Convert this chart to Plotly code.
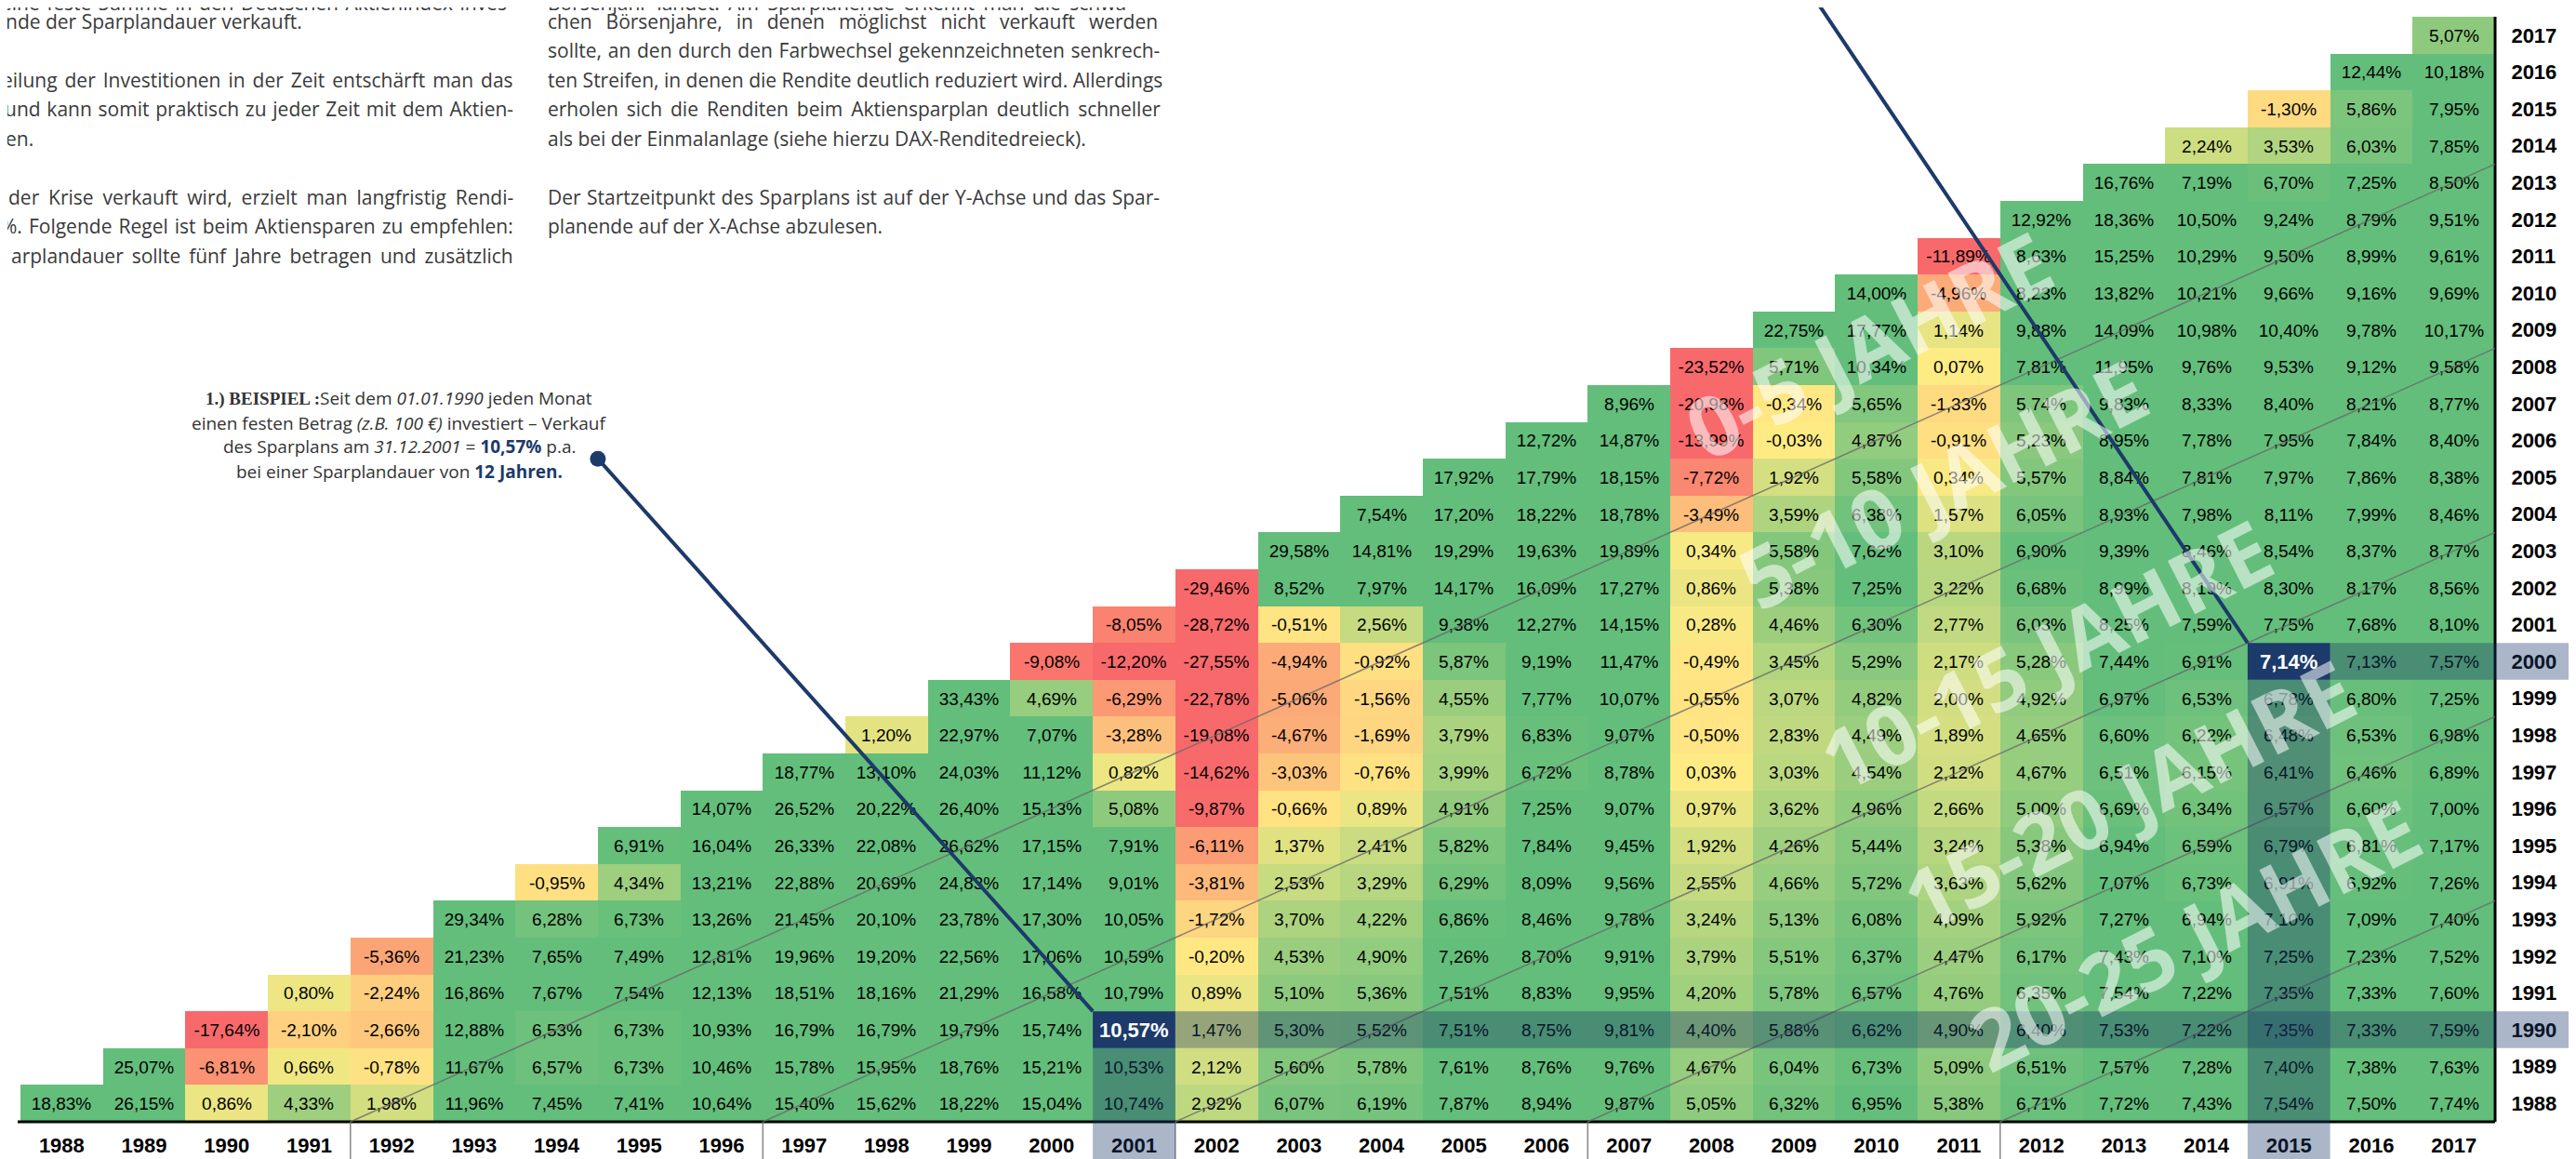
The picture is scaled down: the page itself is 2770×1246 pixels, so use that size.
import plotly.graph_objects as go

# ---------------- data ----------------
years = list(range(1988, 2018))          # start years (y) and end years (x)
tick_labels = [str(y) for y in years]

# annualised return of a monthly savings plan, start year -> end years (start..2017)
r1988 = [18.83, 26.15, 0.86, 4.33, 1.98, 11.96, 7.45, 7.41, 10.64, 15.40, 15.62, 18.22, 15.04, 10.74, 2.92, 6.07, 6.19, 7.87, 8.94, 9.87, 5.05, 6.32, 6.95, 5.38, 6.71, 7.72, 7.43, 7.54, 7.50, 7.74]
r1989 = [25.07, -6.81, 0.66, -0.78, 11.67, 6.57, 6.73, 10.46, 15.78, 15.95, 18.76, 15.21, 10.53, 2.12, 5.60, 5.78, 7.61, 8.76, 9.76, 4.67, 6.04, 6.73, 5.09, 6.51, 7.57, 7.28, 7.40, 7.38, 7.63]
r1990 = [-17.64, -2.10, -2.66, 12.88, 6.53, 6.73, 10.93, 16.79, 16.79, 19.79, 15.74, 10.57, 1.47, 5.30, 5.52, 7.51, 8.75, 9.81, 4.40, 5.88, 6.62, 4.90, 6.40, 7.53, 7.22, 7.35, 7.33, 7.59]
r1991 = [0.80, -2.24, 16.86, 7.67, 7.54, 12.13, 18.51, 18.16, 21.29, 16.58, 10.79, 0.89, 5.10, 5.36, 7.51, 8.83, 9.95, 4.20, 5.78, 6.57, 4.76, 6.35, 7.54, 7.22, 7.35, 7.33, 7.60]
r1992 = [-5.36, 21.23, 7.65, 7.49, 12.81, 19.96, 19.20, 22.56, 17.06, 10.59, -0.20, 4.53, 4.90, 7.26, 8.70, 9.91, 3.79, 5.51, 6.37, 4.47, 6.17, 7.43, 7.10, 7.25, 7.23, 7.52]
r1993 = [29.34, 6.28, 6.73, 13.26, 21.45, 20.10, 23.78, 17.30, 10.05, -1.72, 3.70, 4.22, 6.86, 8.46, 9.78, 3.24, 5.13, 6.08, 4.09, 5.92, 7.27, 6.94, 7.10, 7.09, 7.40]
r1994 = [-0.95, 4.34, 13.21, 22.88, 20.69, 24.83, 17.14, 9.01, -3.81, 2.53, 3.29, 6.29, 8.09, 9.56, 2.55, 4.66, 5.72, 3.63, 5.62, 7.07, 6.73, 6.91, 6.92, 7.26]
r1995 = [6.91, 16.04, 26.33, 22.08, 26.62, 17.15, 7.91, -6.11, 1.37, 2.41, 5.82, 7.84, 9.45, 1.92, 4.26, 5.44, 3.24, 5.38, 6.94, 6.59, 6.79, 6.81, 7.17]
r1996 = [14.07, 26.52, 20.22, 26.40, 15.13, 5.08, -9.87, -0.66, 0.89, 4.91, 7.25, 9.07, 0.97, 3.62, 4.96, 2.66, 5.00, 6.69, 6.34, 6.57, 6.60, 7.00]
r1997 = [18.77, 13.10, 24.03, 11.12, 0.82, -14.62, -3.03, -0.76, 3.99, 6.72, 8.78, 0.03, 3.03, 4.54, 2.12, 4.67, 6.51, 6.15, 6.41, 6.46, 6.89]
r1998 = [1.20, 22.97, 7.07, -3.28, -19.08, -4.67, -1.69, 3.79, 6.83, 9.07, -0.50, 2.83, 4.49, 1.89, 4.65, 6.60, 6.22, 6.48, 6.53, 6.98]
r1999 = [33.43, 4.69, -6.29, -22.78, -5.06, -1.56, 4.55, 7.77, 10.07, -0.55, 3.07, 4.82, 2.00, 4.92, 6.97, 6.53, 6.78, 6.80, 7.25]
r2000 = [-9.08, -12.20, -27.55, -4.94, -0.92, 5.87, 9.19, 11.47, -0.49, 3.45, 5.29, 2.17, 5.28, 7.44, 6.91, 7.14, 7.13, 7.57]
r2001 = [-8.05, -28.72, -0.51, 2.56, 9.38, 12.27, 14.15, 0.28, 4.46, 6.30, 2.77, 6.03, 8.25, 7.59, 7.75, 7.68, 8.10]
r2002 = [-29.46, 8.52, 7.97, 14.17, 16.09, 17.27, 0.86, 5.38, 7.25, 3.22, 6.68, 8.99, 8.19, 8.30, 8.17, 8.56]
r2003 = [29.58, 14.81, 19.29, 19.63, 19.89, 0.34, 5.58, 7.62, 3.10, 6.90, 9.39, 8.46, 8.54, 8.37, 8.77]
r2004 = [7.54, 17.20, 18.22, 18.78, -3.49, 3.59, 6.38, 1.57, 6.05, 8.93, 7.98, 8.11, 7.99, 8.46]
r2005 = [17.92, 17.79, 18.15, -7.72, 1.92, 5.58, 0.34, 5.57, 8.84, 7.81, 7.97, 7.86, 8.38]
r2006 = [12.72, 14.87, -13.99, -0.03, 4.87, -0.91, 5.23, 8.95, 7.78, 7.95, 7.84, 8.40]
r2007 = [8.96, -20.98, -0.34, 5.65, -1.33, 5.74, 9.83, 8.33, 8.40, 8.21, 8.77]
r2008 = [-23.52, 5.71, 10.34, 0.07, 7.81, 11.95, 9.76, 9.53, 9.12, 9.58]
r2009 = [22.75, 17.77, 1.14, 9.88, 14.09, 10.98, 10.40, 9.78, 10.17]
r2010 = [14.00, -4.96, 8.23, 13.82, 10.21, 9.66, 9.16, 9.69]
r2011 = [-11.89, 8.63, 15.25, 10.29, 9.50, 8.99, 9.61]
r2012 = [12.92, 18.36, 10.50, 9.24, 8.79, 9.51]
r2013 = [16.76, 7.19, 6.70, 7.25, 8.50]
r2014 = [2.24, 3.53, 6.03, 7.85]
r2015 = [-1.30, 5.86, 7.95]
r2016 = [12.44, 10.18]
r2017 = [5.07]

rows = [r1988, r1989, r1990, r1991, r1992, r1993, r1994, r1995, r1996, r1997,
        r1998, r1999, r2000, r2001, r2002, r2003, r2004, r2005, r2006, r2007,
        r2008, r2009, r2010, r2011, r2012, r2013, r2014, r2015, r2016, r2017]

# highlighted examples: (end year, start year)
examples = [(2001, 1990), (2015, 2000)]
duration_marks = [5, 10, 15, 20, 25]
watermarks = ["0-5 JAHRE", "5-10 JAHRE", "10-15 JAHRE", "15-20 JAHRE", "20-25 JAHRE"]

# ---------------- build matrix ----------------
n = len(years)
z, txt = [], []
for i, sy in enumerate(years):
    row = rows[i]
    if len(row) != n - i:
        raise ValueError(f"row {sy} has {len(row)} values")
    zr, tr = [], []
    for j, ey in enumerate(years):
        if j >= i:
            v = row[j - i]
            zr.append(v)
            tr.append("" if (ey, sy) in examples else f"{v:.2f}".replace(".", ",") + "%")
        else:
            zr.append(None)
            tr.append("")
    z.append(zr)
    txt.append(tr)

def fmt(v):
    return f"{v:.2f}".replace(".", ",") + "%"

NAVY = "#1c3a6a"
X0, X1 = 1987.5, 2017.5
Y0, Y1 = 1987.5, 2017.5
ML, MR, MT, MB = 14, 95, 10, 44
W, H = 2770, 1246
PW, PH = W - ML - MR, H - MT - MB

def xp(x):  # data -> paper
    return (x - X0) / (X1 - X0)

def yp(y):
    return (y - Y0) / (Y1 - Y0)

def pxx(px):  # pixel -> paper
    return (px - ML) / PW

def pxy(py):
    return (H - MB - py) / PH

XR = pxx(W + 5)
YB = pxy(H + 5)

fig = go.Figure()
fig.add_trace(go.Heatmap(
    x=years, y=years, z=z, text=txt, texttemplate="%{text}",
    textfont=dict(family="Liberation Sans, Arial", size=19, color="black"),
    colorscale=[[0, "#F8696B"], [10 / 17, "#FFEB84"], [1, "#63BE7B"]],
    zmin=-10, zmax=7, showscale=False, hoverinfo="skip", xgap=0, ygap=0,
))

shapes = []
# black frame lines
shapes.append(dict(type="line", xref="paper", yref="paper", x0=pxx(11), x1=1, y0=0, y1=0,
                   line=dict(color="black", width=3)))
shapes.append(dict(type="line", xref="paper", yref="paper", x0=1, x1=1, y0=0, y1=1,
                   line=dict(color="black", width=3)))
# duration diagonals and tick separators
for d in duration_marks:
    k = d - 1
    shapes.append(dict(type="line", xref="paper", yref="paper",
                       x0=xp(X0 + k), y0=0, x1=1, y1=yp(Y1 - k),
                       line=dict(color="rgba(105,105,105,0.8)", width=1.5)))
    shapes.append(dict(type="line", xref="paper", yref="paper",
                       x0=xp(X0 + k), y0=0, x1=xp(X0 + k), y1=YB,
                       line=dict(color="rgba(105,105,105,0.8)", width=1.5)))
# highlight bands
band = "rgba(27,58,107,0.37)"
for ex, sy in examples:
    shapes.append(dict(type="rect", xref="paper", yref="paper", layer="above",
                       x0=xp(ex + 0.5), x1=XR, y0=yp(sy - 0.5), y1=yp(sy + 0.5),
                       fillcolor=band, line=dict(width=0)))
    shapes.append(dict(type="rect", xref="paper", yref="paper", layer="above",
                       x0=xp(ex - 0.5), x1=xp(ex + 0.5), y0=YB, y1=yp(sy - 0.5),
                       fillcolor=band, line=dict(width=0)))
    shapes.append(dict(type="rect", xref="x", yref="y", layer="above",
                       x0=ex - 0.5, x1=ex + 0.5, y0=sy - 0.5, y1=sy + 0.5,
                       fillcolor=NAVY, line=dict(width=0)))
# pointer lines
shapes.append(dict(type="line", xref="paper", yref="paper",
                   x0=xp(1994.5), y0=yp(2005.5), x1=xp(2000.5), y1=yp(1990.5),
                   line=dict(color=NAVY, width=4)))
shapes.append(dict(type="line", xref="paper", yref="paper",
                   x0=xp(2008.5), y0=yp(2020.5), x1=xp(2014.5), y1=yp(2000.5),
                   line=dict(color=NAVY, width=4)))

fig.add_trace(go.Scatter(x=[1994.5], y=[2005.5], mode="markers",
                         marker=dict(color=NAVY, size=17), hoverinfo="skip", cliponaxis=False))

ann = []
for ex, sy in examples:
    v = rows[years.index(sy)][ex - sy]
    ann.append(dict(x=ex, y=sy, xref="x", yref="y", text=f"<b>{fmt(v)}</b>", showarrow=False,
                    font=dict(family="Liberation Sans, Arial", size=22, color="white")))

# watermark labels along the diagonals
wm_pos = [(2009.9, 2008.6), (2010.8, 2004.85), (2012.05, 2000.2), (2013.05, 1996.4), (2013.85, 1992.6)]
for label, (wx, wy) in zip(watermarks, wm_pos):
    ann.append(dict(x=wx, y=wy, xref="x", yref="y", text=label, showarrow=False, textangle=-27,
                    font=dict(family="Open Sans", size=90, color="rgba(255,255,255,0.55)", weight=700)))

# paragraph text (justified lines get extra word spacing)
TXT = "#3a3a3a"
LH = 31.6
L0 = 15

def just(t, ws):
    return f"<span style='word-spacing:{ws}px'>{t}</span>" if ws else t

col1 = [
    (-0.65, "eine feste Summe in den Deutschen Aktienindex inves-", "right", 2),
    (0, "nde der Sparplandauer verkauft.", "left", 0),
    (2, "eilung der Investitionen in der Zeit entschärft man das", "right", 2.5),
    (3, "und kann somit praktisch zu jeder Zeit mit dem Aktien-", "right", 1.3),
    (4, "en.", "left", 0),
    (6, "der Krise verkauft wird, erzielt man langfristig Rendi-", "right", 4.4),
    (7, "%. Folgende Regel ist beim Aktiensparen zu empfehlen:", "right", 1.6),
    (8, "arplandauer sollte fünf Jahre betragen und zusätzlich", "right", 3.5),
]
for k, t, al, ws in col1:
    ann.append(dict(x=pxx(546) if al == "right" else pxx(-4), y=pxy(L0 + k * LH), xref="paper", yref="paper",
                    xanchor=al, yanchor="middle", text=just(t, ws), showarrow=False,
                    font=dict(family="Open Sans", size=21, color=TXT)))
col2 = [
    (-0.65, "Börsenjahr landet. Am Sparplanende erkennt man die schwa-", 4),
    (0, "chen Börsenjahre, in denen möglichst nicht verkauft werden", 9.5),
    (1, "sollte, an den durch den Farbwechsel gekennzeichneten senkrech-", 1.3),
    (2, "ten Streifen, in denen die Rendite deutlich reduziert wird. Allerdings", 0),
    (3, "erholen sich die Renditen beim Aktiensparplan deutlich schneller", 3.5),
    (4, "als bei der Einmalanlage (siehe hierzu DAX-Renditedreieck).", 0),
    (6, "Der Startzeitpunkt des Sparplans ist auf der Y-Achse und das Spar-", 0.9),
    (7, "planende auf der X-Achse abzulesen.", 0),
]
for k, t, ws in col2:
    ann.append(dict(x=pxx(579), y=pxy(L0 + k * LH), xref="paper", yref="paper",
                    xanchor="left", yanchor="middle", text=just(t, ws), showarrow=False,
                    font=dict(family="Open Sans", size=21, color=TXT)))

ex_lines = [
    (421, "<span style='font-family:Liberation Serif;font-weight:bold'>1.) BEISPIEL :</span>Seit dem <i>01.01.1990</i> jeden Monat"),
    (448, "einen festen Betrag <i>(z.B. 100 €)</i> investiert – Verkauf"),
    (474, f"des Sparplans am <i>31.12.2001</i> = <span style='color:{NAVY}'><b>10,57%</b></span> p.a."),
    (501, f"bei einer Sparplandauer von <span style='color:{NAVY}'><b>12 Jahren.</b></span>"),
]
for py, t in ex_lines:
    ann.append(dict(x=pxx(421), y=pxy(py), xref="paper", yref="paper",
                    xanchor="center", yanchor="middle", text=t, showarrow=False,
                    font=dict(family="Open Sans", size=19, color="#333333")))

fig.update_layout(
    width=W, height=H, margin=dict(l=ML, r=MR, t=MT, b=MB),
    plot_bgcolor="white", paper_bgcolor="white", showlegend=False,
    shapes=shapes, annotations=ann,
)
fig.update_xaxes(range=[X0, X1], tickmode="array", tickvals=years, ticktext=tick_labels,
                 tickfont=dict(family="Liberation Sans, Arial", size=22, color="black", weight=700),
                 showgrid=False, zeroline=False, showline=False,
                 ticks="outside", ticklen=6, tickcolor="rgba(0,0,0,0)")
fig.update_yaxes(range=[Y0, Y1], side="right", tickmode="array", tickvals=years, ticktext=tick_labels,
                 tickfont=dict(family="Liberation Sans, Arial", size=22, color="black", weight=700),
                 showgrid=False, zeroline=False, showline=False,
                 ticks="outside", ticklen=12, tickcolor="rgba(0,0,0,0)")

fig.write_html("out.html")
